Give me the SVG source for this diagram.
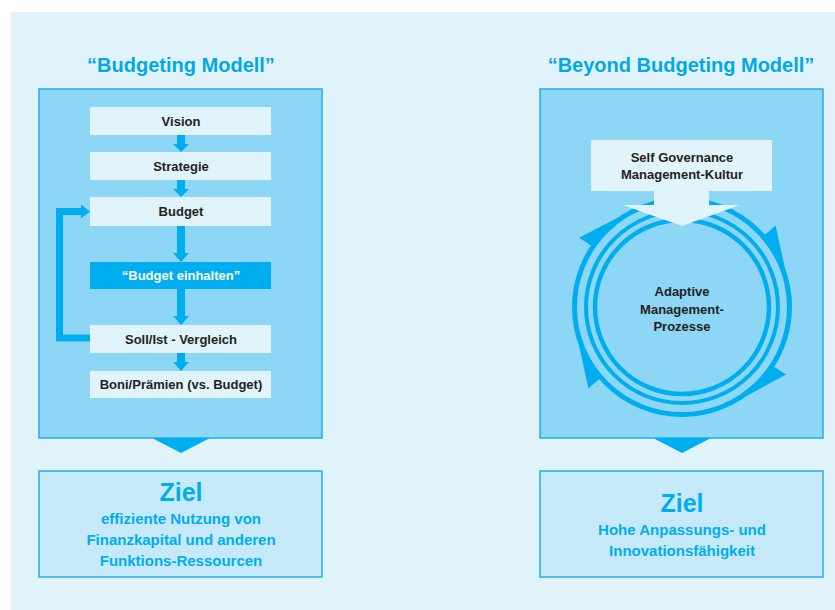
<svg xmlns="http://www.w3.org/2000/svg" width="835" height="610" viewBox="0 0 835 610">
<defs>
<style>
.bg{fill:#e0f3fb}
.panel{fill:#8dd6f5;stroke:#1fb0ea;stroke-width:1.5}
.ziel{fill:#c5e9f8;stroke:#1fb0ea;stroke-width:1.5}
.box{fill:#e1f3fb}
.dark{fill:#00aeef}
.title{font-family:"Liberation Sans",Arial,sans-serif;font-weight:bold;font-size:20px;fill:#00a9e6;text-anchor:middle}
.lbl{font-family:"Liberation Sans",Arial,sans-serif;font-weight:bold;font-size:13px;fill:#231f20;text-anchor:middle}
.wl{font-family:"Liberation Sans",Arial,sans-serif;font-weight:bold;font-size:13px;fill:#ffffff;text-anchor:middle}
.zt{font-family:"Liberation Sans",Arial,sans-serif;font-weight:bold;font-size:25px;fill:#00aeef;text-anchor:middle}
.zs{font-family:"Liberation Sans",Arial,sans-serif;font-weight:bold;font-size:15px;fill:#00aeef;text-anchor:middle}
.ring{fill:none;stroke:#00aeef}
.conn{fill:none;stroke:#00aeef;stroke-width:7}
</style>
</defs>
<rect x="0" y="0" width="835" height="610" fill="#ffffff"/>
<rect class="bg" x="11" y="12" width="824" height="598"/>

<text class="title" x="181" y="72">“Budgeting Modell”</text>
<text class="title" x="681" y="72">“Beyond Budgeting Modell”</text>

<g id="panel-left">
<rect class="panel" x="39" y="89" width="283" height="349"/>
<polygon class="dark" points="152,438 210,438 181,453"/>
</g>
<g id="panel-right">
<rect class="panel" x="540" y="89" width="283" height="349"/>
<polygon class="dark" points="653,438 711,438 682,453"/>
</g>

<g id="connectors">
<polyline class="conn" points="90,338 59.5,338 59.5,211.5 83,211.5"/>
<polygon class="dark" points="81,204.5 90,211.5 81,218.5"/>
<rect class="dark" x="177" y="135" width="8" height="10"/>
<polygon class="dark" points="173,144 189,144 181,152"/>
<rect class="dark" x="177" y="180" width="8" height="10"/>
<polygon class="dark" points="173,189 189,189 181,197"/>
<rect class="dark" x="177" y="226" width="8" height="28"/>
<polygon class="dark" points="173,253 189,253 181,262"/>
<rect class="dark" x="177" y="289" width="8" height="28"/>
<polygon class="dark" points="173,316 189,316 181,325"/>
<rect class="dark" x="177" y="353" width="8" height="10"/>
<polygon class="dark" points="173,362 189,362 181,371"/>
</g>

<g id="vision"><rect class="box" x="90" y="107" width="181" height="28"/><text class="lbl" x="181" y="126">Vision</text></g>
<g id="strategie"><rect class="box" x="90" y="152" width="181" height="28"/><text class="lbl" x="181" y="170.5">Strategie</text></g>
<g id="budget"><rect class="box" x="90" y="197" width="181" height="29"/><text class="lbl" x="181" y="216">Budget</text></g>
<g id="einhalten"><rect class="dark" x="90" y="262" width="181" height="27"/><text class="wl" x="181" y="280">“Budget einhalten”</text></g>
<g id="soll-ist"><rect class="box" x="90" y="325" width="181" height="28"/><text class="lbl" x="181" y="344">Soll/Ist - Vergleich</text></g>
<g id="boni"><rect class="box" x="90" y="371" width="181" height="27"/><text class="lbl" x="181" y="389">Boni/Prämien (vs. Budget)</text></g>

<g id="ziel-left">
<rect class="ziel" x="39" y="471" width="283" height="106"/>
<text class="zt" x="181" y="501">Ziel</text>
<text class="zs" x="181" y="524">effiziente Nutzung von</text>
<text class="zs" x="181" y="545">Finanzkapital und anderen</text>
<text class="zs" x="181" y="566">Funktions-Ressourcen</text>
</g>

<g id="cycle">
<circle class="ring" cx="682" cy="307" r="107.5" stroke-width="5"/>
<circle class="ring" cx="682" cy="307" r="96" stroke-width="4"/>
<circle class="ring" cx="682" cy="307" r="87" stroke-width="4.5"/>
<path class="dark" d="M763.5 236.1 L775.6 225.6 L787.3 278.8 A108.5 108.5 0 0 0 763.5 236.1 Z"/>
<path class="dark" d="M592.5 246.6 L579.2 237.7 L632.5 209.9 A108.5 108.5 0 0 0 592.5 246.6 Z"/>
<path class="dark" d="M772.6 365.8 L786.0 374.5 L736.5 401.4 A108.5 108.5 0 0 0 772.6 365.8 Z"/>
<path class="dark" d="M600.5 377.9 L588.4 388.4 L577.2 337.0 A108.5 108.5 0 0 0 600.5 377.9 Z"/>
<text class="lbl" x="682" y="296">Adaptive</text>
<text class="lbl" x="682" y="313.5">Management-</text>
<text class="lbl" x="682" y="331">Prozesse</text>
</g>

<g id="self-governance">
<polygon class="box" points="591,140 772,140 772,191 709,191 709,205 740,205 682,226 623,205 654,205 654,191 591,191"/>
<text class="lbl" x="682" y="162" font-size="12.5">Self Governance</text>
<text class="lbl" x="682" y="179" font-size="12.5">Management-Kultur</text>
</g>

<g id="ziel-right">
<rect class="ziel" x="540" y="471" width="283" height="106"/>
<text class="zt" x="682" y="512">Ziel</text>
<text class="zs" x="682" y="535">Hohe Anpassungs- und</text>
<text class="zs" x="682" y="556">Innovationsfähigkeit</text>
</g>
</svg>
